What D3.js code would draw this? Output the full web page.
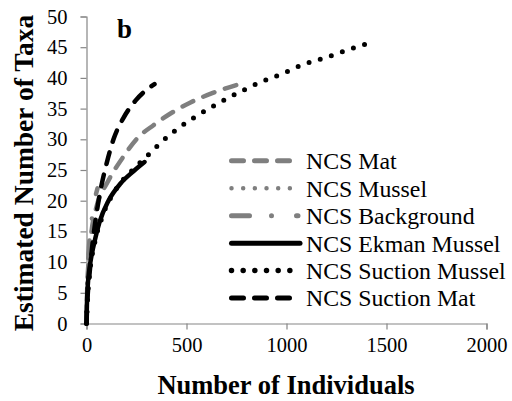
<!DOCTYPE html>
<html>
<head>
<meta charset="utf-8">
<script src="https://cdn.jsdelivr.net/npm/d3@7/dist/d3.min.js"></script>
<style>
  html, body { margin: 0; padding: 0; background: #fff; }
  svg { display: block; }
  text { font-family: "Liberation Serif", "Times New Roman", serif; fill: #000; }
</style>
</head>
<body>
<svg id="chart" width="512" height="401"></svg>
<script>
// Rarefaction curves: estimated number of taxa vs number of individuals
const seriesNames = ["NCS Mat", "NCS Mussel", "NCS Background", "NCS Ekman Mussel", "NCS Suction Mussel", "NCS Suction Mat"];

const ncsMat = [[0,0],[3,5],[10,10],[25,15],[50,19],[105,23],[185,27.2],[255,30.2],[335,32.3],[420,34.2],[520,36],[635,37.6],[765,39]];
const ncsMussel = [[0,0],[3,5],[8,9],[15,12],[30,15.5]];
const ncsBackground = [[0,0],[3,6],[8,10],[25,16.5],[55,22]];
const ncsEkmanMussel = [[0,0],[2,3],[6,6],[15,9],[25,11],[45,14],[65,16.5],[110,20],[170,22.8],[235,24.8],[290,26.3]];
const ncsSuctionMussel = [[0,0],[5,4],[15,8],[40,13],[80,17.5],[150,22],[230,25],[320,27.8],[370,29.4],[455,31.7],[555,33.9],[655,35.8],[760,37.6],[870,39.3],[980,40.7],[1085,42.2],[1195,43.3],[1310,44.6],[1425,45.8]];
const ncsSuctionMat = [[0,0],[5,4],[15,8],[28,12.4],[43,16.3],[70,21.7],[100,26],[135,30],[185,33.5],[245,36.3],[340,39]];

const xTicks = [0, 500, 1000, 1500, 2000];
const yTicks = [0, 5, 10, 15, 20, 25, 30, 35, 40, 45, 50];

const grey = "#7f7f7f";
const styles = [
  { data: ncsMat,           color: grey,   width: 4.5, dash: "12,11" },
  { data: ncsMussel,        color: grey,   width: 4,   dash: "0,11.67" },
  { data: ncsBackground,    color: grey,   width: 4.5, dash: "18,22,0,25" },
  { data: ncsEkmanMussel,   color: "#000", width: 4.5, dash: null },
  { data: ncsSuctionMussel, color: "#000", width: 5,   dash: "0,11.67" },
  { data: ncsSuctionMat,    color: "#000", width: 4.5, dash: "12,11" }
];

const svg = d3.select("#chart");
const x = d3.scaleLinear().domain([0, 2000]).range([86.5, 486.5]);
const y = d3.scaleLinear().domain([0, 50]).range([323.5, 16.5]);
const axisColor = "#868686";

// y axis
const gy = svg.append("g").attr("transform", "translate(86.5,0)")
  .call(d3.axisLeft(y).tickValues(yTicks).tickSize(6).tickPadding(13));
gy.select(".domain").attr("stroke", axisColor).attr("stroke-width", 1.2);
gy.selectAll(".tick line").attr("stroke", axisColor).attr("stroke-width", 1.2);
gy.selectAll(".tick text").attr("font-size", 20.5).attr("fill", "#000");

// x axis
const gx = svg.append("g").attr("transform", "translate(0,323.5)")
  .call(d3.axisBottom(x).tickValues(xTicks).tickSize(6).tickPadding(8).tickFormat(d3.format("d")));
gx.select(".domain").attr("stroke", axisColor).attr("stroke-width", 1.2);
gx.selectAll(".tick line").attr("stroke", axisColor).attr("stroke-width", 1.2);
gx.selectAll(".tick text").attr("font-size", 20.5).attr("fill", "#000");

// curves
const line = d3.line().x(d => x(d[0])).y(d => y(d[1])).curve(d3.curveMonotoneX);
styles.forEach(s => {
  svg.append("path")
    .datum(s.data)
    .attr("d", line)
    .attr("fill", "none")
    .attr("stroke", s.color)
    .attr("stroke-width", s.width)
    .attr("stroke-linecap", "round")
    .attr("stroke-dasharray", s.dash);
});

// legend
const legendRows = [160.7, 188.3, 215.7, 243.3, 270.5, 298];
const legend = svg.append("g");
styles.forEach((s, i) => {
  legend.append("line")
    .attr("x1", 231.5).attr("x2", i === 3 ? 300 : (i === 2 ? 298 : 291))
    .attr("y1", legendRows[i]).attr("y2", legendRows[i])
    .attr("stroke", s.color)
    .attr("stroke-width", s.width + 0.5)
    .attr("stroke-linecap", "round")
    .attr("stroke-dasharray", s.dash);
  legend.append("text")
    .attr("x", 306).attr("y", legendRows[i])
    .attr("dy", "0.35em")
    .attr("font-size", 23.8)
    .text(seriesNames[i]);
});

// panel letter
svg.append("text").attr("x", 117).attr("y", 38)
  .attr("font-size", 27).attr("font-weight", "bold").text("b");

// axis titles
svg.append("text").attr("x", 286).attr("y", 394)
  .attr("text-anchor", "middle").attr("font-size", 26.5).attr("font-weight", "bold")
  .text("Number of Individuals");
svg.append("text").attr("transform", "translate(33,173) rotate(-90)")
  .attr("text-anchor", "middle").attr("font-size", 27.5).attr("font-weight", "bold")
  .text("Estimated Number of Taxa");
</script>
</body>
</html>
